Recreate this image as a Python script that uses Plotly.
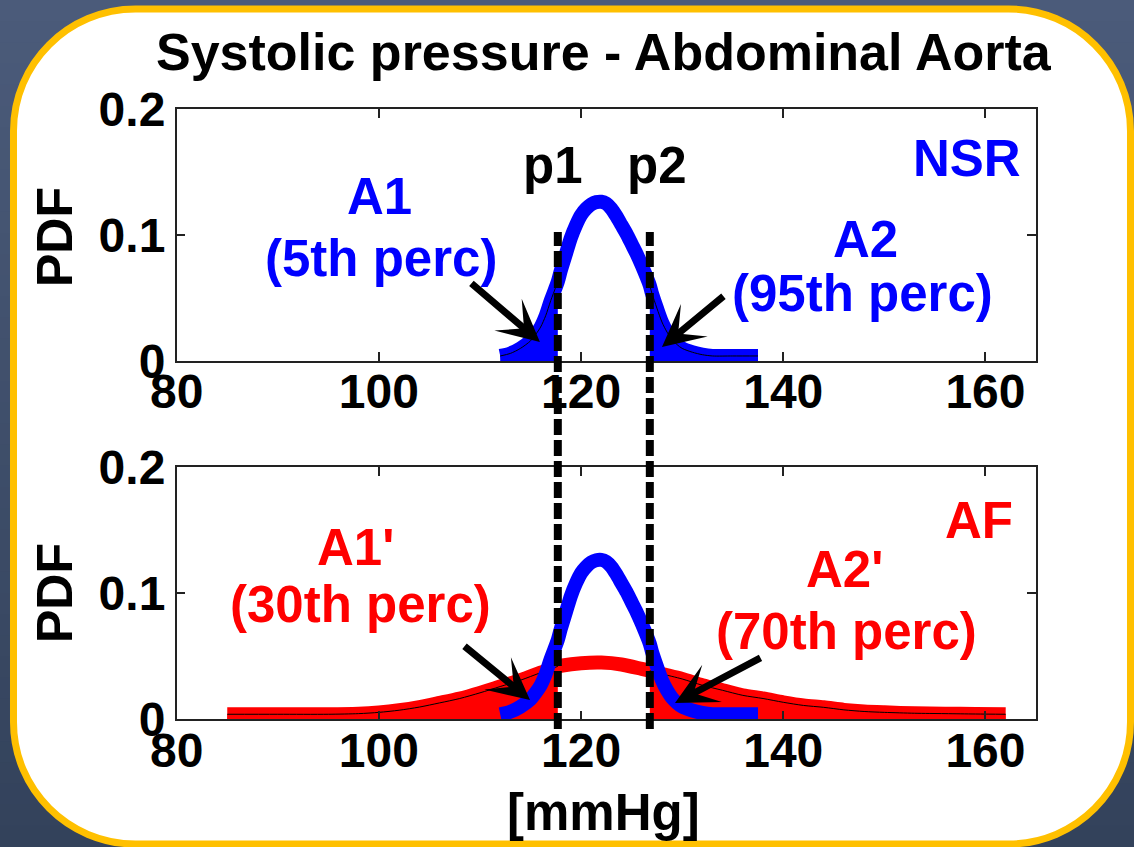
import plotly.graph_objects as go

W, H = 1134, 847

# ---------------- data ----------------
nsr_x = [112, 113, 114, 115, 115.5, 116, 116.5, 117, 117.7, 118, 118.5, 119, 119.5, 120, 120.5,
         121, 121.5, 122, 122.5, 123, 123.5, 124, 124.5, 125, 125.5, 126, 126.8, 127, 127.5,
         128, 128.5, 129, 129.5, 130, 131, 132, 133, 135, 137.5]
nsr_pdf = [0.004, 0.006, 0.010, 0.016, 0.021, 0.027, 0.036, 0.048, 0.063, 0.072, 0.085, 0.098,
           0.108, 0.116, 0.121, 0.1245, 0.1262, 0.1265, 0.125, 0.121, 0.115, 0.108, 0.101, 0.093,
           0.085, 0.076, 0.060, 0.054, 0.042, 0.031, 0.023, 0.017, 0.013, 0.010, 0.007, 0.005,
           0.004, 0.004, 0.004]

af_x = [85, 90, 95, 98, 100, 102, 104, 106, 108, 110, 112, 114, 116, 117.7, 118, 120, 122, 124,
        126, 126.8, 128, 130, 132, 134, 136, 138, 140, 142, 144, 146, 148, 150, 153, 156, 159, 162]
af_pdf = [0.004, 0.004, 0.004, 0.0045, 0.0055, 0.0072, 0.0097, 0.013, 0.0165, 0.021, 0.026, 0.031,
          0.037, 0.042, 0.0425, 0.0445, 0.045, 0.0435, 0.040, 0.0385, 0.036, 0.032, 0.027, 0.023,
          0.019, 0.0165, 0.0135, 0.011, 0.0095, 0.0075, 0.0062, 0.0055, 0.0048, 0.0045, 0.0042, 0.004]

p_thresholds = [117.7, 126.8]          # p1, p2
threshold_labels = ["p1", "p2"]

x_ticks = [80, 100, 120, 140, 160]
y_ticks = [0, 0.1, 0.2]
y_ticktext = ["0", "0.1", "0.2"]

title_text = "Systolic pressure - Abdominal Aorta"
x_label = "[mmHg]"
y_label = "PDF"

BLUE = "#0000FF"
RED = "#FF0000"
FONT = "Liberation Sans, Arial, sans-serif"

p1, p2 = p_thresholds


def sel(xs, ys, cond):
    pts = [(a, b) for a, b in zip(xs, ys) if cond(a)]
    return [a for a, _ in pts], [b for _, b in pts]


fig = go.Figure()
LINE_W = 14

# ---- top panel (NSR) ----
fig.add_trace(go.Scatter(x=nsr_x, y=nsr_pdf, mode="lines",
                         line=dict(color=BLUE, width=LINE_W, shape="spline", smoothing=0.8),
                         xaxis="x", yaxis="y", hoverinfo="skip"))
for cond in (lambda v: v <= p1, lambda v: v >= p2):
    xs, ys = sel(nsr_x, nsr_pdf, cond)
    fig.add_trace(go.Scatter(x=xs, y=ys, mode="lines", fill="tozeroy", fillcolor=BLUE,
                             line=dict(color="black", width=1, shape="spline", smoothing=0.8),
                             xaxis="x", yaxis="y", hoverinfo="skip"))

# ---- bottom panel (AF + NSR) ----
fig.add_trace(go.Scatter(x=af_x, y=af_pdf, mode="lines",
                         line=dict(color=RED, width=LINE_W, shape="spline", smoothing=0.8),
                         xaxis="x2", yaxis="y2", hoverinfo="skip"))
for cond in (lambda v: v <= p1, lambda v: v >= p2):
    xs, ys = sel(af_x, af_pdf, cond)
    fig.add_trace(go.Scatter(x=xs, y=ys, mode="lines", fill="tozeroy", fillcolor=RED,
                             line=dict(color="black", width=1, shape="spline", smoothing=0.8),
                             xaxis="x2", yaxis="y2", hoverinfo="skip"))
fig.add_trace(go.Scatter(x=nsr_x, y=nsr_pdf, mode="lines",
                         line=dict(color=BLUE, width=LINE_W, shape="spline", smoothing=0.8),
                         xaxis="x2", yaxis="y2", hoverinfo="skip"))


def px(x):
    return x / W


def py(y):
    return 1 - y / H


# ---------------- shapes ----------------
shapes = []
top_c = (75, 91, 122)
bot_c = (51, 66, 91)
n = 40
for i in range(n):
    t = i / (n - 1)
    c = tuple(int(round(top_c[k] + (bot_c[k] - top_c[k]) * t)) for k in range(3))
    shapes.append(dict(type="rect", xref="paper", yref="paper", x0=0, x1=1,
                       y0=max(0, 1 - (i + 1) / n - 0.002), y1=1 - i / n,
                       fillcolor="rgb(%d,%d,%d)" % c, line=dict(width=0), layer="below"))

L, R, T, B, r = 13.5, 1130.5, 9, 844, 122
k = 0.5523 * r


def P(a, b):
    return "%.5f,%.5f" % (px(a), py(b))


path = ("M " + P(L + r, T) + " L " + P(R - r, T) +
        " C " + P(R - r + k, T) + " " + P(R, T + r - k) + " " + P(R, T + r) +
        " L " + P(R, B - r) +
        " C " + P(R, B - r + k) + " " + P(R - r + k, B) + " " + P(R - r, B) +
        " L " + P(L + r, B) +
        " C " + P(L + r - k, B) + " " + P(L, B - r + k) + " " + P(L, B - r) +
        " L " + P(L, T + r) +
        " C " + P(L, T + r - k) + " " + P(L + r - k, T) + " " + P(L + r, T) + " Z")
shapes.append(dict(type="path", xref="paper", yref="paper", path=path, fillcolor="white",
                   line=dict(color="#FFC000", width=7), layer="below"))

for pv in p_thresholds:
    shapes.append(dict(type="line", xref="x", yref="paper", x0=pv, x1=pv,
                       y0=py(729), y1=py(232),
                       line=dict(color="black", width=8, dash="16px,5px"), layer="above"))

# ---------------- annotations ----------------
ann = []


def txt(text, x, y, color, xref="x", yref="y", size=51, angle=0):
    ann.append(dict(text=text, x=x, y=y, xref=xref, yref=yref, showarrow=False,
                    xanchor="center", yanchor="middle", textangle=angle,
                    font=dict(family=FONT, size=size, color=color, weight="bold")))


txt(title_text, px(604), py(52), "black", "paper", "paper", size=52)
txt(y_label, px(55), py(237), "black", "paper", "paper", size=50, angle=-90)
txt(y_label, px(55), py(593), "black", "paper", "paper", size=50, angle=-90)
txt(x_label, px(603), py(812), "black", "paper", "paper")

txt(threshold_labels[0], 117.2, 0.1556, "black")
txt(threshold_labels[1], 127.5, 0.1556, "black")
txt("NSR", 158.2, 0.161, BLUE)
txt("A1", 100.1, 0.131, BLUE)
txt("(5th perc)", 100.2, 0.0817, BLUE)
txt("A2", 148.1, 0.0968, BLUE)
txt("(95th perc)", 147.8, 0.054, BLUE)

txt("AF", 159.4, 0.158, RED, "x2", "y2")
txt("A1'", 97.7, 0.136, RED, "x2", "y2")
txt("(30th perc)", 98.2, 0.0915, RED, "x2", "y2")
txt("A2'", 146.1, 0.1185, RED, "x2", "y2")
txt("(70th perc)", 146.3, 0.070, RED, "x2", "y2")


def arrow(x, y, ax, ay, xref="x", yref="y"):
    ann.append(dict(text="", x=x, y=y, xref=xref, yref=yref, ax=ax, ay=ay, showarrow=True,
                    arrowhead=3, arrowsize=1.0, arrowwidth=7, arrowcolor="black", standoff=0))


arrow(115.93, 0.0151, -70, -60)
arrow(128.0, 0.0111, 63, -52)
arrow(114.95, 0.0153, -67, -55, "x2", "y2")
arrow(129.29, 0.0129, 87, -46, "x2", "y2")

# ---------------- axes ----------------
xdom = [px(176.7), px(1036)]
axis_common = dict(showline=True, linecolor="#222", linewidth=1.5, mirror="ticks",
                   ticks="inside", ticklen=9, tickwidth=1.5, tickcolor="#222",
                   showgrid=False, zeroline=False, automargin=False,
                   tickfont=dict(family=FONT, size=48, color="black", weight="bold"))

fig.update_layout(
    width=W, height=H,
    margin=dict(l=0, r=0, t=0, b=0, pad=0, autoexpand=False),
    paper_bgcolor="#43536f", plot_bgcolor="white",
    showlegend=False,
    xaxis=dict(domain=xdom, range=[80, 165], tickvals=x_ticks, anchor="y",
               ticklabelstandoff=-12, **axis_common),
    yaxis=dict(domain=[py(361), py(109.3)], range=[0, 0.2], tickvals=y_ticks,
               ticktext=y_ticktext, anchor="x", **axis_common),
    xaxis2=dict(domain=xdom, range=[80, 165], tickvals=x_ticks, anchor="y2",
                ticklabelstandoff=-12, **axis_common),
    yaxis2=dict(domain=[py(719.3), py(467.3)], range=[0, 0.2], tickvals=y_ticks,
                ticktext=y_ticktext, anchor="x2", **axis_common),
    shapes=shapes,
    annotations=ann,
)

fig.write_html("out.html")
